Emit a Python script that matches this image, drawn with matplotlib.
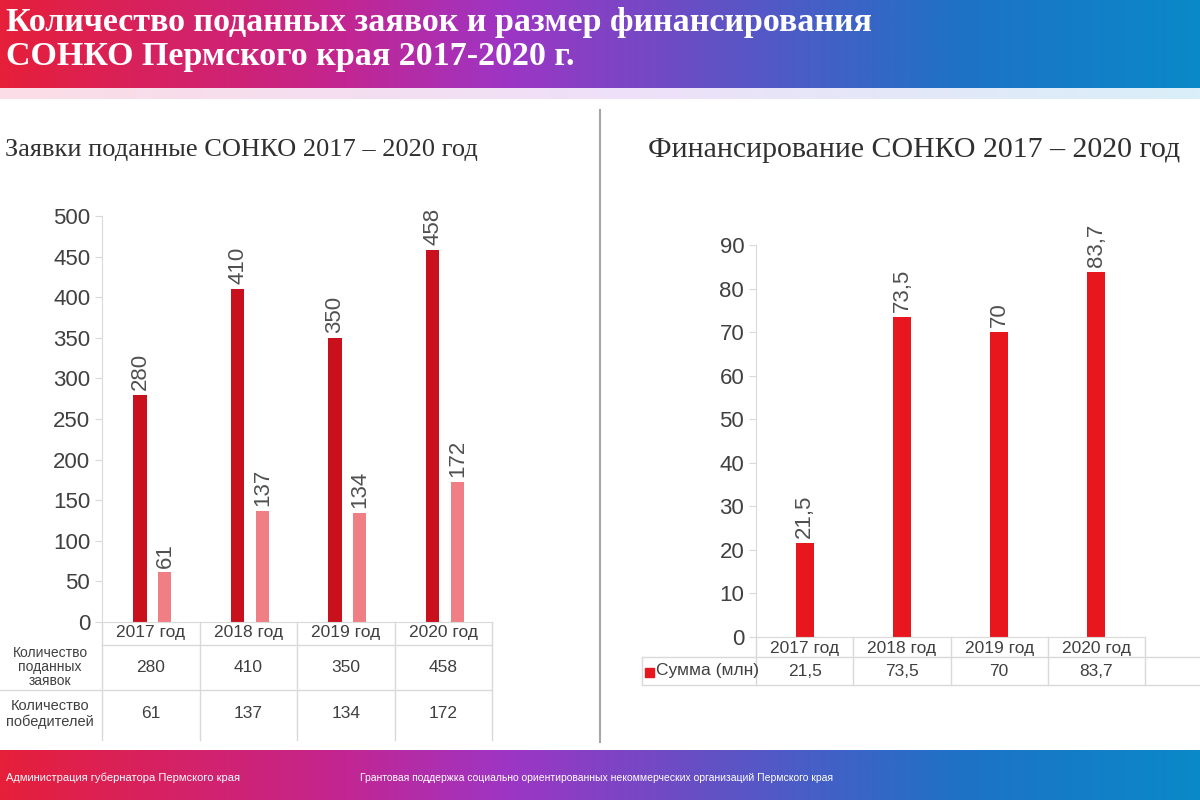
import numpy as np
import matplotlib.pyplot as plt
from matplotlib.colors import LinearSegmentedColormap
from matplotlib.transforms import blended_transform_factory

# Data
years = ['2017 год', '2018 год', '2019 год', '2020 год']
applications = [280, 410, 350, 458]
winners = [61, 137, 134, 172]
funding = [21.5, 73.5, 70, 83.7]

row_apps = 'Количество\nподанных\nзаявок'
row_wins = 'Количество\nпобедителей'
row_sum = 'Сумма (млн)'

title_1 = 'Количество поданных заявок и размер финансирования'
title_2 = 'СОНКО Пермского края 2017-2020 г.'
left_title = 'Заявки поданные СОНКО 2017 – 2020 год'
right_title = 'Финансирование СОНКО 2017 – 2020 год'
footer_left = 'Администрация губернатора Пермского края'
footer_mid = 'Грантовая поддержка социально ориентированных некоммерческих организаций Пермского края'

SANS = ['Liberation Sans', 'DejaVu Sans']
SERIF = ['Liberation Serif', 'DejaVu Serif']
DARK_RED = '#c8111d'
LIGHT_RED = '#f07f85'
RED = '#e8161d'
GRID = '#d9d9d9'
TXT = '#404040'

W, H = 1200, 800
fig = plt.figure(figsize=(12, 8), dpi=100)
fig.patch.set_facecolor('white')


def fx(px):
    return px / W


def fy(py):
    return 1 - py / H


def comma(v):
    return f'{v:g}'.replace('.', ',')


# gradient bars (header / footer)
grad = LinearSegmentedColormap.from_list(
    'slide', [(0.0, '#e61f3a'), (0.28, '#c4258f'), (0.42, '#9e35c4'),
              (0.62, '#5a55c6'), (0.8, '#1e72c6'), (1.0, '#0a89c9')])
strip = np.linspace(0, 1, 512).reshape(1, -1)
for top, bottom in [(0, 88), (750, 800)]:
    gax = fig.add_axes([0, fy(bottom), 1, (bottom - top) / H])
    gax.imshow(strip, aspect='auto', cmap=grad, extent=[0, 1, 0, 1])
    gax.set_axis_off()

# thin pale band under header
pale = LinearSegmentedColormap.from_list('pale', ['#fbdde6', '#efe0f8', '#d9eff9'])
pax = fig.add_axes([0, fy(99), 1, 11 / H])
pax.imshow(strip, aspect='auto', cmap=pale, extent=[0, 1, 0, 1])
pax.set_axis_off()

# header title
fig.text(fx(6), fy(22), title_1, ha='left', va='center', color='white',
         fontsize=24.5, fontweight='bold', family=SERIF)
fig.text(fx(6), fy(57), title_2, ha='left', va='center', color='white',
         fontsize=24.5, fontweight='bold', family=SERIF)

# subtitles
fig.text(fx(478), fy(150), left_title, ha='right', va='center', color='#303030',
         fontsize=19, family=SERIF)
fig.text(fx(648), fy(150), right_title, ha='left', va='center', color='#303030',
         fontsize=21.5, family=SERIF)

# separator
fig.add_artist(plt.Line2D([fx(600), fx(600)], [fy(110), fy(742)],
                          color='#a6a6a6', lw=1.5))

# footer texts
fig.text(fx(6), fy(778), footer_left, ha='left', va='center', color='white',
         fontsize=8, family=SANS)
fig.text(fx(360), fy(778), footer_mid, ha='left', va='center', color='white',
         fontsize=7.5, family=SANS)


def style_axis(ax, ymax, step):
    ax.set_xlim(-0.5, 3.5)
    ax.set_ylim(0, ymax)
    ax.set_yticks(np.arange(0, ymax + 1, step))
    ax.set_xticks([])
    for s in ['top', 'right']:
        ax.spines[s].set_visible(False)
    ax.spines['left'].set_color(GRID)
    ax.spines['bottom'].set_color(GRID)
    ax.tick_params(axis='y', colors=GRID, length=5, labelcolor=TXT, labelsize=16)
    for lab in ax.get_yticklabels():
        lab.set_family(SANS)
    ax.patch.set_alpha(0)


x = np.arange(len(years))

# ---------------- left chart ----------------
axl = fig.add_axes([fx(102), fy(622), fx(390), 406 / H])
style_axis(axl, 500, 50)
bw = 0.135
axl.bar(x - 0.11, applications, bw, color=DARK_RED)
axl.bar(x + 0.145, winners, bw, color=LIGHT_RED)
for xi, a, w in zip(x, applications, winners):
    axl.text(xi - 0.11, a + 6, str(a), rotation=90, ha='center', va='bottom',
             fontsize=16, color='#505050', family=SANS)
    axl.text(xi + 0.145, w + 6, str(w), rotation=90, ha='center', va='bottom',
             fontsize=16, color='#505050', family=SANS)

tl = blended_transform_factory(axl.transData, fig.transFigure)
for b in np.arange(-0.5, 4, 1):
    axl.plot([b, b], [fy(622), fy(740)], color=GRID, lw=1, transform=tl, clip_on=False)
fig.add_artist(plt.Line2D([fx(102), fx(492)], [fy(645), fy(645)], color=GRID, lw=1))
fig.add_artist(plt.Line2D([0, fx(492)], [fy(690), fy(690)], color=GRID, lw=1))
for xi, yr, a, w in zip(x, years, applications, winners):
    axl.text(xi, fy(633), yr, transform=tl, ha='center', va='center',
             fontsize=12.5, color=TXT, family=SANS)
    axl.text(xi, fy(667), str(a), transform=tl, ha='center', va='center',
             fontsize=12.5, color=TXT, family=SANS)
    axl.text(xi, fy(714), str(w), transform=tl, ha='center', va='center',
             fontsize=12.5, color=TXT, family=SANS)
fig.text(fx(50), fy(667), row_apps, ha='center', va='center', color=TXT,
         fontsize=10, family=SANS, linespacing=1.0)
fig.text(fx(50), fy(714), row_wins, ha='center', va='center', color=TXT,
         fontsize=10.5, family=SANS, linespacing=1.15)

# ---------------- right chart ----------------
axr = fig.add_axes([fx(756), fy(637), fx(389), 392 / H])
style_axis(axr, 90, 10)
axr.bar(x, funding, 0.185, color=RED)
for xi, v in zip(x, funding):
    axr.text(xi, v + 1.2, comma(v), rotation=90, ha='center', va='bottom',
             fontsize=16, color='#505050', family=SANS)

tr = blended_transform_factory(axr.transData, fig.transFigure)
for b in np.arange(-0.5, 4, 1):
    axr.plot([b, b], [fy(637), fy(685)], color=GRID, lw=1, transform=tr, clip_on=False)
for yy in [657, 685]:
    fig.add_artist(plt.Line2D([fx(642), 1], [fy(yy), fy(yy)], color=GRID, lw=1))
fig.add_artist(plt.Line2D([fx(642), fx(642)], [fy(657), fy(685)], color=GRID, lw=1))
for xi, yr, v in zip(x, years, funding):
    axr.text(xi, fy(648), yr, transform=tr, ha='center', va='center',
             fontsize=12.5, color=TXT, family=SANS)
    axr.text(xi, fy(672), comma(v), transform=tr, ha='center', va='center',
             fontsize=12.5, color=TXT, family=SANS)
fig.add_artist(plt.Rectangle((fx(645), fy(677)), fx(9), 9 / H, color=RED))
fig.text(fx(656), fy(671), row_sum, ha='left', va='center', color=TXT,
         fontsize=12.5, family=SANS)

fig.savefig('out.png', dpi=100)
